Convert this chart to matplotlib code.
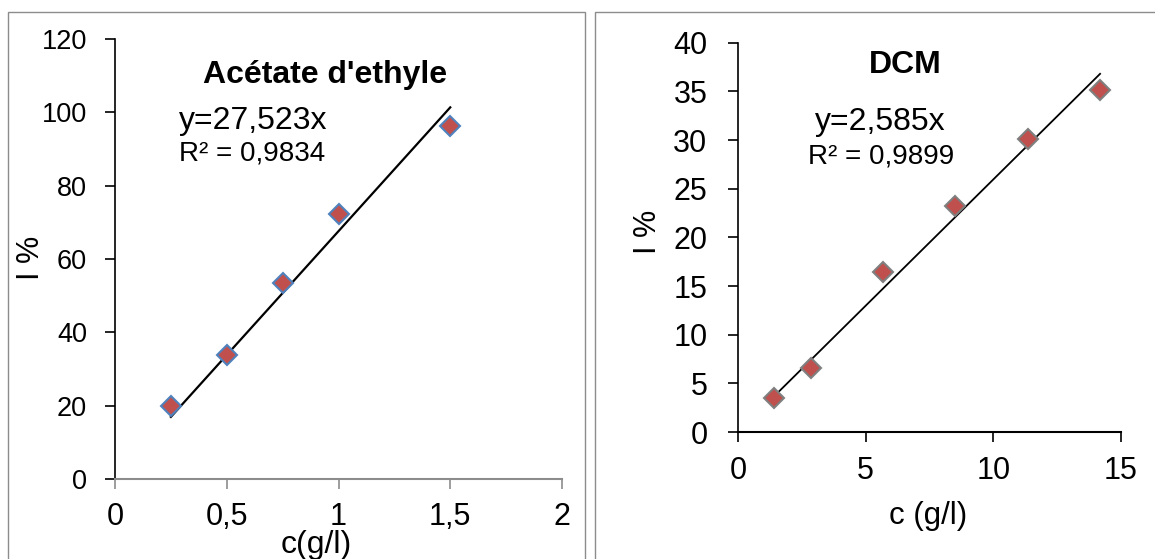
import numpy as np
import matplotlib
matplotlib.use("Agg")
import matplotlib.pyplot as plt
from matplotlib.patches import Rectangle

plt.rcParams['font.family'] = ['Liberation Sans', 'DejaVu Sans']

# --- data ---
c_acetate = [0.25, 0.5, 0.75, 1.0, 1.5]
i_acetate = [19.8, 33.7, 53.5, 72.3, 96.4]
c_dcm = [1.42, 2.84, 5.67, 8.5, 11.34, 14.18]
i_dcm = [3.5, 6.6, 16.4, 23.2, 30.1, 35.1]

eq_acetate = "y=27,523x"
r2_acetate = "R² = 0,9834"
eq_dcm = "y=2,585x"
r2_dcm = "R² = 0,9899"

W, H = 1155, 559
fig = plt.figure(figsize=(W / 100, H / 100), dpi=100)


def px(x, y):
    # pixel coords (from top-left) -> figure fraction
    return x / W, 1 - y / H


def add_ax(x0, x1, ytop, ybot):
    return fig.add_axes([x0 / W, 1 - ybot / H, (x1 - x0) / W, (ybot - ytop) / H])


# chart-area frames
fig.patches.append(Rectangle(px(7.5, 600), (585 - 7.5) / W, (600 - 12) / H,
                             transform=fig.transFigure, fill=False,
                             edgecolor='#8c8c8c', lw=1.0))
fig.patches.append(Rectangle(px(595, 600), (1200 - 595) / W, (600 - 12) / H,
                             transform=fig.transFigure, fill=False,
                             edgecolor='#8c8c8c', lw=1.0))


def style(ax, bottom_color, ysize, xsize, ypad):
    for s in ['top', 'right']:
        ax.spines[s].set_visible(False)
    ax.spines['left'].set_linewidth(1.2)
    ax.spines['bottom'].set_linewidth(1.5)
    ax.spines['bottom'].set_color(bottom_color)
    ax.tick_params(axis='y', direction='out', length=7, width=1.2, pad=ypad, labelsize=ysize)
    ax.tick_params(axis='x', direction='out', length=7, width=1.2, pad=10, labelsize=xsize,
                   color=bottom_color)


def through_origin(x, y):
    x = np.asarray(x)
    y = np.asarray(y)
    return (x * y).sum() / (x * x).sum()


# --- left chart: Acétate d'ethyle ---
ax1 = add_ax(115, 562, 39.2, 478.8)
k1 = through_origin(c_acetate, i_acetate)
xl = np.array([min(c_acetate), max(c_acetate)])
ax1.plot(xl, k1 * xl, color='black', lw=1.6, zorder=2)
ax1.plot(c_acetate, i_acetate, ls='none', marker='D', ms=10,
         mfc='#C0504D', mec='#4F81BD', mew=1.5, zorder=3)
ax1.set_xlim(0, 2)
ax1.set_ylim(0, 120)
ax1.set_xticks([0, 0.5, 1, 1.5, 2])
ax1.set_xticklabels(['0', '0,5', '1', '1,5', '2'])
ax1.set_yticks(range(0, 121, 20))
style(ax1, '#8c8c8c', 19.5, 22, 13)

fig.text(*px(325, 83), "Acétate d'ethyle", ha='center', va='baseline',
         fontsize=23, fontweight='bold')
fig.text(*px(179, 129), eq_acetate, ha='left', va='baseline', fontsize=23)
fig.text(*px(179, 161), r2_acetate, ha='left', va='baseline', fontsize=20)
fig.text(*px(31, 258), "I %", rotation=90, ha='center', va='center', fontsize=22)
fig.text(*px(316, 553), "c(g/l)", ha='center', va='baseline', fontsize=23)

# --- right chart: DCM ---
ax2 = add_ax(738, 1121, 42.8, 432)
k2 = through_origin(c_dcm, i_dcm)
xr = np.array([min(c_dcm), max(c_dcm)])
ax2.plot(xr, k2 * xr, color='black', lw=1.3, zorder=2)
ax2.plot(c_dcm, i_dcm, ls='none', marker='D', ms=10,
         mfc='#C0504D', mec='#7F7F7F', mew=1.5, zorder=3)
ax2.set_xlim(0, 15)
ax2.set_ylim(0, 40)
ax2.set_xticks([0, 5, 10, 15])
ax2.set_yticks(range(0, 41, 5))
style(ax2, 'black', 22, 22, 15)

fig.text(*px(905, 73), "DCM", ha='center', va='baseline',
         fontsize=23, fontweight='bold')
fig.text(*px(880, 130), eq_dcm, ha='center', va='baseline', fontsize=23)
fig.text(*px(880.7, 164), r2_dcm, ha='center', va='baseline', fontsize=20)
fig.text(*px(648, 232), "I %", rotation=90, ha='center', va='center', fontsize=22)
fig.text(*px(928, 524), "c (g/l)", ha='center', va='baseline', fontsize=22.5)

fig.savefig("out.png", dpi=100)
